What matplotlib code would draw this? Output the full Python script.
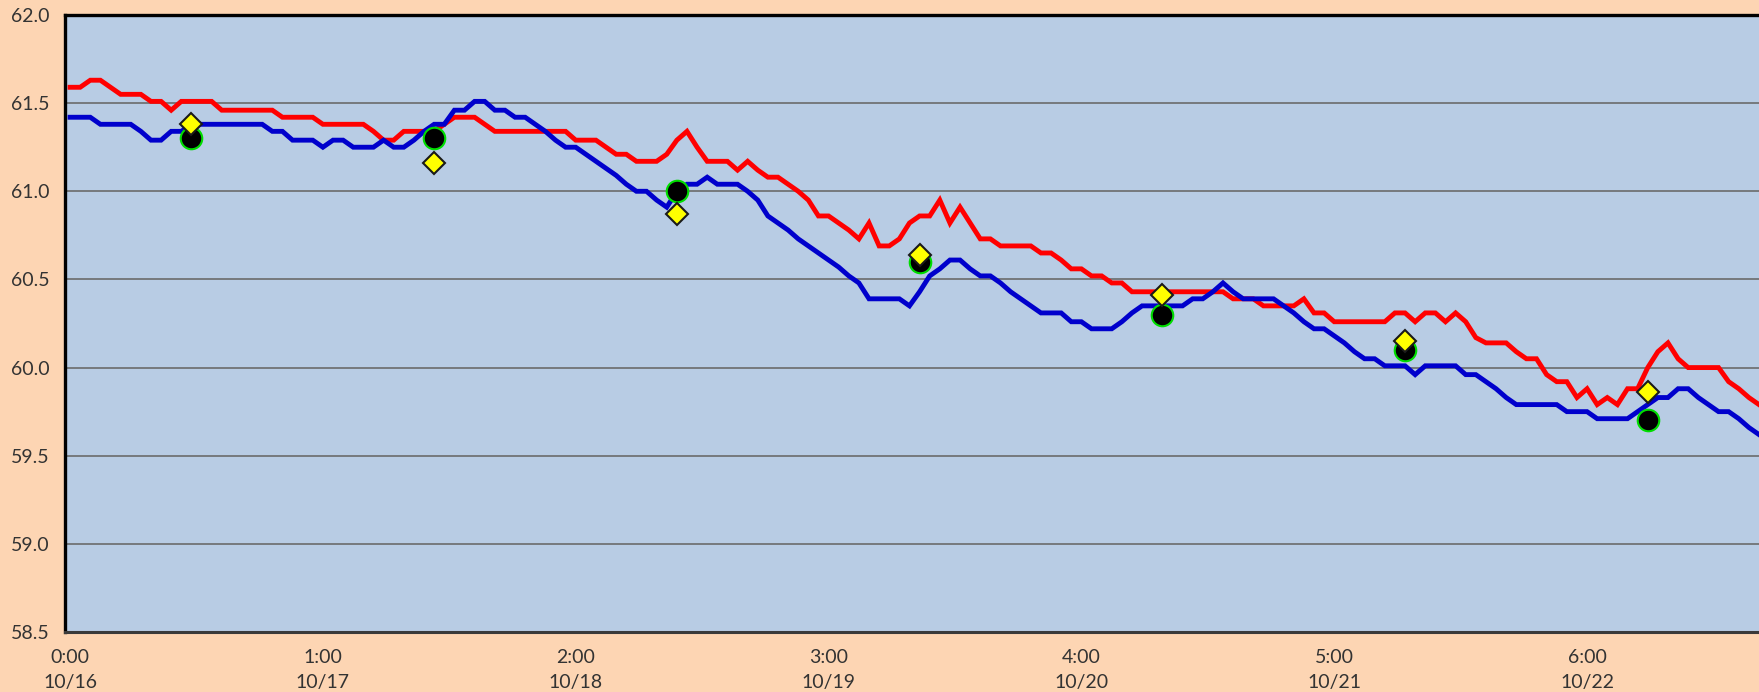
import matplotlib

matplotlib.use("Agg")
import matplotlib.pyplot as plt
import numpy as np

plt.rcParams["font.family"] = ["Lato", "DejaVu Sans"]

# hourly readings, one value per category slot
red_values = [
    61.59, 61.59, 61.63, 61.63, 61.59, 61.55, 61.55, 61.55, 61.51, 61.51,
    61.46, 61.51, 61.51, 61.51, 61.51, 61.46, 61.46, 61.46, 61.46, 61.46,
    61.46, 61.42, 61.42, 61.42, 61.42, 61.38, 61.38, 61.38, 61.38, 61.38,
    61.34, 61.29, 61.29, 61.34, 61.34, 61.34, 61.34, 61.38, 61.42, 61.42,
    61.42, 61.38, 61.34, 61.34, 61.34, 61.34, 61.34, 61.34, 61.34, 61.34,
    61.29, 61.29, 61.29, 61.25, 61.21, 61.21, 61.17, 61.17, 61.17, 61.21,
    61.29, 61.34, 61.25, 61.17, 61.17, 61.17, 61.12, 61.17, 61.12, 61.08,
    61.08, 61.04, 61.00, 60.95, 60.86, 60.86, 60.82, 60.78, 60.73, 60.82,
    60.69, 60.69, 60.73, 60.82, 60.86, 60.86, 60.95, 60.82, 60.91, 60.82,
    60.73, 60.73, 60.69, 60.69, 60.69, 60.69, 60.65, 60.65, 60.61, 60.56,
    60.56, 60.52, 60.52, 60.48, 60.48, 60.43, 60.43, 60.43, 60.43, 60.43,
    60.43, 60.43, 60.43, 60.43, 60.43, 60.39, 60.39, 60.39, 60.35, 60.35,
    60.35, 60.35, 60.39, 60.31, 60.31, 60.26, 60.26, 60.26, 60.26, 60.26,
    60.26, 60.31, 60.31, 60.26, 60.31, 60.31, 60.26, 60.31, 60.26, 60.17,
    60.14, 60.14, 60.14, 60.09, 60.05, 60.05, 59.96, 59.92, 59.92, 59.83,
    59.88, 59.79, 59.83, 59.79, 59.88, 59.88, 60.00, 60.09, 60.14, 60.05,
    60.00, 60.00, 60.00, 60.00, 59.92, 59.88, 59.83, 59.79,
]

blue_values = [
    61.42, 61.42, 61.42, 61.38, 61.38, 61.38, 61.38, 61.34, 61.29, 61.29,
    61.34, 61.34, 61.38, 61.38, 61.38, 61.38, 61.38, 61.38, 61.38, 61.38,
    61.34, 61.34, 61.29, 61.29, 61.29, 61.25, 61.29, 61.29, 61.25, 61.25,
    61.25, 61.29, 61.25, 61.25, 61.29, 61.34, 61.38, 61.38, 61.46, 61.46,
    61.51, 61.51, 61.46, 61.46, 61.42, 61.42, 61.38, 61.34, 61.29, 61.25,
    61.25, 61.21, 61.17, 61.13, 61.09, 61.04, 61.00, 61.00, 60.95, 60.91,
    61.00, 61.04, 61.04, 61.08, 61.04, 61.04, 61.04, 61.00, 60.95, 60.86,
    60.82, 60.78, 60.73, 60.69, 60.65, 60.61, 60.57, 60.52, 60.48, 60.39,
    60.39, 60.39, 60.39, 60.35, 60.43, 60.52, 60.56, 60.61, 60.61, 60.56,
    60.52, 60.52, 60.48, 60.43, 60.39, 60.35, 60.31, 60.31, 60.31, 60.26,
    60.26, 60.22, 60.22, 60.22, 60.26, 60.31, 60.35, 60.35, 60.35, 60.35,
    60.35, 60.39, 60.39, 60.43, 60.48, 60.43, 60.39, 60.39, 60.39, 60.39,
    60.35, 60.31, 60.26, 60.22, 60.22, 60.18, 60.14, 60.09, 60.05, 60.05,
    60.01, 60.01, 60.01, 59.96, 60.01, 60.01, 60.01, 60.01, 59.96, 59.96,
    59.92, 59.88, 59.83, 59.79, 59.79, 59.79, 59.79, 59.79, 59.75, 59.75,
    59.75, 59.71, 59.71, 59.71, 59.71, 59.75, 59.79, 59.83, 59.83, 59.88,
    59.88, 59.83, 59.79, 59.75, 59.75, 59.71, 59.66, 59.62,
]

# daily check readings
check_slots = [12, 36, 60, 84, 108, 132, 156]
circle_values = [61.30, 61.30, 61.00, 60.60, 60.30, 60.10, 59.70]
diamond_values = [61.38, 61.16, 60.87, 60.64, 60.41, 60.15, 59.86]

tick_slots = [0, 25, 50, 75, 100, 125, 150]
tick_labels = ["0:00\n10/16", "1:00\n10/17", "2:00\n10/18", "3:00\n10/19",
               "4:00\n10/20", "5:00\n10/21", "6:00\n10/22"]

bg = "#FDD5B3"
plot_bg = "#B8CCE4"

fig = plt.figure(figsize=(17.59, 6.92), dpi=100, facecolor=bg)
ax = fig.add_axes([65 / 1759, 1 - 632 / 692, 1 - 65 / 1759, 617 / 692])
ax.set_facecolor(plot_bg)

ax.plot(np.arange(len(red_values)), red_values, color="#FF0000", lw=3.5,
        solid_joinstyle="miter", zorder=3)
ax.plot(np.arange(len(blue_values)), blue_values, color="#0000CC", lw=3.5,
        solid_joinstyle="miter", zorder=3)

ax.plot(check_slots, circle_values, ls="none", marker="o", ms=15.5,
        mfc="black", mec="#00DD00", mew=1.5, zorder=4)
ax.plot(check_slots, diamond_values, ls="none", marker="D", ms=11,
        mfc="#FFFF00", mec="#1a1a1a", mew=1.5, zorder=5)

ax.set_xlim(-0.5, 167.0)
ax.set_ylim(58.5, 62.0)
ax.set_yticks(np.arange(58.5, 62.01, 0.5))
ax.set_yticklabels([f"{v:.1f}" for v in np.arange(58.5, 62.01, 0.5)])
ax.set_xticks(tick_slots)
ax.set_xticklabels(tick_labels, linespacing=1.6)

ax.grid(axis="y", color="#6b6b6b", lw=1.2, zorder=1)
ax.set_axisbelow(True)
ax.tick_params(axis="both", length=0, labelsize=14, colors="#333333")
ax.tick_params(axis="y", pad=11)
ax.tick_params(axis="x", pad=12)

for side in ["top", "left"]:
    ax.spines[side].set_color("black")
    ax.spines[side].set_linewidth(2.4)
ax.spines["bottom"].set_color("#3a3a3a")
ax.spines["bottom"].set_linewidth(2.2)
ax.spines["right"].set_visible(False)

fig.savefig("out.png", dpi=100, facecolor=bg)
